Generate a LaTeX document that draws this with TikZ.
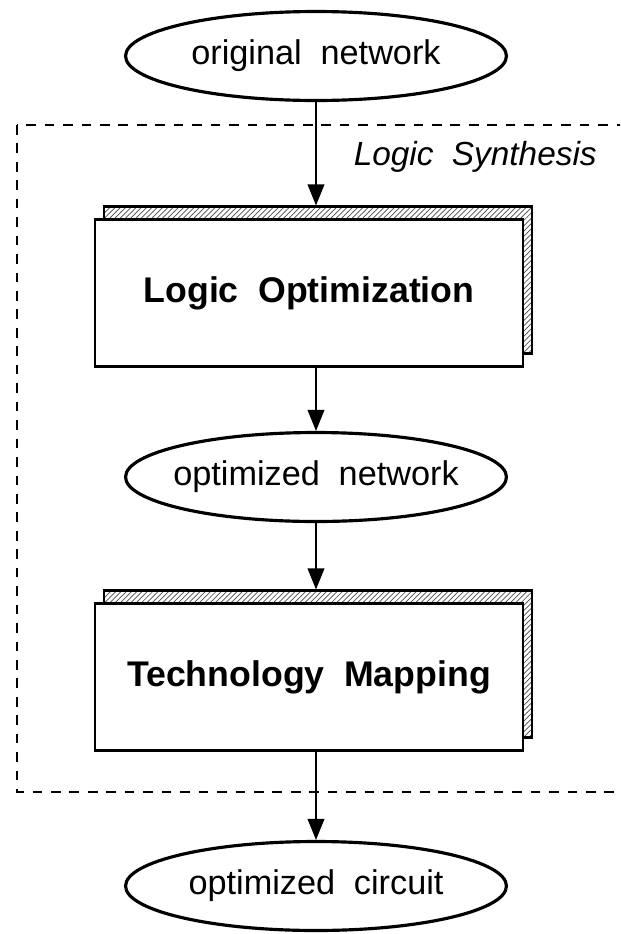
\documentclass[tikz,border=0pt]{standalone}
\usepackage{fontspec}
\setmainfont{Liberation Sans}
\usepackage{tikz}
\usetikzlibrary{arrows.meta,shapes.geometric,patterns}
\newcommand{\wgap}{\hspace{0.55em}}

\begin{document}
\begin{tikzpicture}[x=0.02cm,y=-0.02cm,
  data/.style={ellipse,draw,line width=1.8pt,minimum width=7.62cm,minimum height=1.78cm,
    inner ysep=0pt,inner xsep=-0.5cm,font=\fontsize{19.5}{23}\selectfont},
  stage/.style={rectangle,draw,line width=1.2pt,fill=white,minimum width=8.56cm,minimum height=2.94cm,
    font=\bfseries\fontsize{20.3}{24}\selectfont},
  stageshadow/.style={rectangle,draw,line width=1.2pt,pattern=north east lines,pattern color=black!70,
    minimum width=8.56cm,minimum height=2.94cm},
  flow/.style={-{Triangle[length=12pt,width=9.5pt]},line width=1pt}]
  \useasboundingbox (0,0) rectangle (620,934);
  \clip (0,0) rectangle (620,934);
  % synthesis frame
  \draw[dash pattern=on 5.5pt off 5pt,line width=1.4pt] (17,125) rectangle (660,792);
  \node[anchor=base east,inner sep=0pt,font=\itshape\fontsize{19}{22}\selectfont] (synth) at (597,165) {Logic\wgap Synthesis};
  % networks and stages
  \node[data] (orig) at (316,56) {original\wgap network};
  \node[stageshadow] (lo-s) at (318,280) {};
  \node[stage] (lo) at (309,293) {Logic\wgap Optimization};
  \node[data] (optnet) at (316,477) {optimized\wgap network};
  \node[stageshadow] (tm-s) at (318,664) {};
  \node[stage] (tm) at (309,677) {Technology\wgap Mapping};
  \node[data] (circ) at (316,886) {optimized\wgap circuit};
  % flow
  \draw[flow] (orig.south) -- (orig.south |- lo-s.north);
  \draw[flow] (lo.south -| optnet) -- (optnet.north);
  \draw[flow] (optnet.south) -- (optnet.south |- tm-s.north);
  \draw[flow] (tm.south -| circ) -- (circ.north);
\end{tikzpicture}
\end{document}
